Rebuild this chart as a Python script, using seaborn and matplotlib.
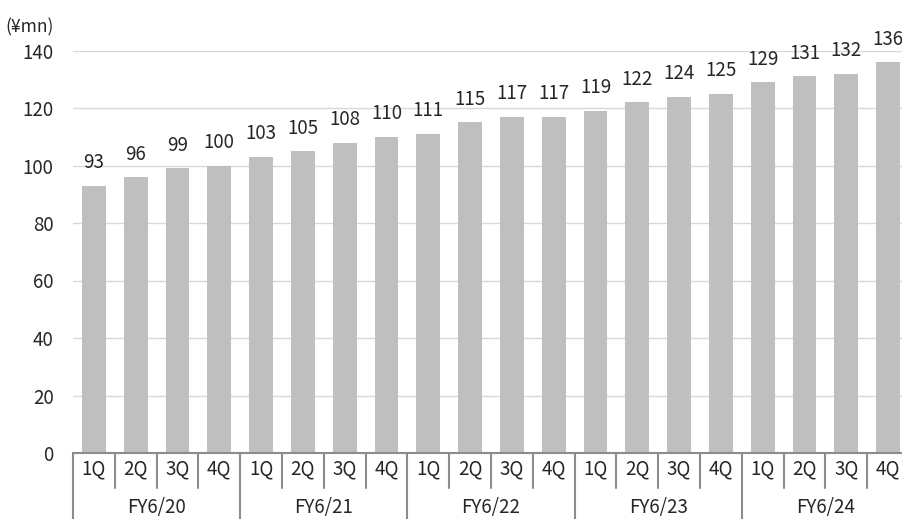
import matplotlib
matplotlib.use("Agg")
import matplotlib.pyplot as plt
import matplotlib.transforms as mtransforms
import seaborn as sns
import pandas as pd

years = ["FY6/20", "FY6/21", "FY6/22", "FY6/23", "FY6/24"]
quarters = ["1Q", "2Q", "3Q", "4Q"]
values = [93, 96, 99, 100, 103, 105, 108, 110, 111, 115, 117, 117,
          119, 122, 124, 125, 129, 131, 132, 136]
yticks = [0, 20, 40, 60, 80, 100, 120, 140]
unit_label = "(¥mn)"

sns.set_theme(style="white")
plt.rcParams['font.family'] = ['Noto Sans CJK JP', 'DejaVu Sans']

labels = [f"{y}|{q}" for y in years for q in quarters]
df = pd.DataFrame({"cat": labels, "value": values})

W, H = 902, 519
fig = plt.figure(figsize=(W / 100, H / 100), dpi=100)
ax_left, ax_right, ax_top, ax_bottom = 73, 909, 50.5, 453
ax = fig.add_axes([ax_left / W, (H - ax_bottom) / H,
                   (ax_right - ax_left) / W, (ax_bottom - ax_top) / H])

sns.barplot(data=df, x="cat", y="value", color="#BFBFBF", width=0.57,
            saturation=1, linewidth=0, ax=ax, zorder=2)
ax.set_xlim(-0.5, len(values) - 0.5)
ax.set_ylim(0, 140)
ax.set_yticks(yticks)
ax.set_yticklabels([str(t) for t in yticks], fontsize=13.5)
ax.tick_params(axis="y", length=0, pad=14)
ax.set_xticks([])
ax.set_xlabel("")
ax.set_ylabel("")
ax.grid(axis="y", color="#D9D9D9", linewidth=1, zorder=0)
ax.set_axisbelow(True)
for s in ["left", "right", "top"]:
    ax.spines[s].set_visible(False)
ax.spines["bottom"].set_color("#8C8C8C")
ax.spines["bottom"].set_linewidth(1.5)
ax.spines["bottom"].set_zorder(3)

for p, v in zip(ax.patches, values):
    ax.annotate(str(v), (p.get_x() + p.get_width() / 2, p.get_height()),
                xytext=(0, 9), textcoords="offset points", ha="center",
                va="bottom", fontsize=13.5, clip_on=False)

# hierarchical category axis
trans = mtransforms.blended_transform_factory(ax.transData, ax.transAxes)
ph = ax_bottom - ax_top
q_end = -35 / ph
y_end = -70 / ph
n = len(values)
for i in range(n + 1):
    x = i - 0.5
    if i % 4 == 0:
        ax.plot([x, x], [0, y_end], transform=trans, color="#8C8C8C",
                linewidth=1.5, clip_on=False)
    else:
        ax.plot([x, x], [0, q_end], transform=trans, color="#8C8C8C",
                linewidth=1.5, clip_on=False)
for i in range(n):
    ax.text(i, -16 / ph, quarters[i % 4], transform=trans, ha="center",
            va="center", fontsize=13.5)
for j, y in enumerate(years):
    ax.text(j * 4 + 1.5, -54 / ph, y, transform=trans, ha="center",
            va="center", fontsize=13.5)

fig.text(5 / W, 1 - 27 / H, unit_label, ha="left", va="center", fontsize=12.5)

fig.savefig("out.png", dpi=100)
